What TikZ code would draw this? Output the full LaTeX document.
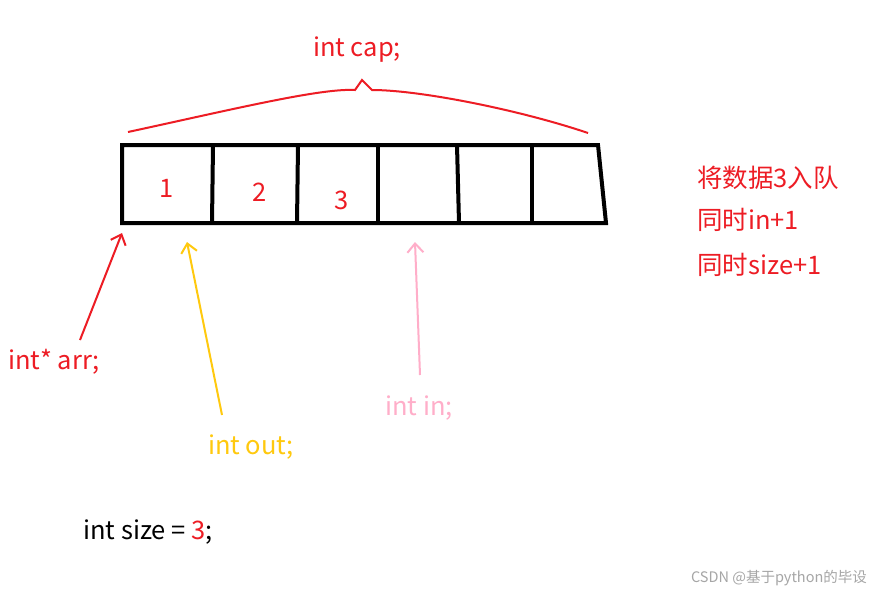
\documentclass[tikz,border=0pt]{standalone}
\usepackage{fontspec}
\setmainfont{Noto Sans CJK SC}
\usetikzlibrary{arrows.meta}
\definecolor{myred}{HTML}{ED1C24}
\definecolor{mygold}{HTML}{FFC90E}
\definecolor{mypink}{HTML}{FFAEC9}
\begin{document}
\begin{tikzpicture}[x=1pt,y=-1pt,
  lab/.style={font=\fontsize{25.5}{28}\selectfont,inner sep=0pt},
  cell/.style={line width=4pt,black},
  arr/.style={line width=2pt,-{Straight Barb[length=9pt,width=16pt]}}]
\useasboundingbox (0,0) rectangle (880,592);
\fill[white] (0,0) rectangle (880,592);
\draw[cell,line join=miter] (122,145) -- (598,145) -- (606,223) -- (122,223) -- cycle;
\foreach \a/\b in {213/212,298/297,378/378,457/459,532/532} \draw[cell] (\a,145) -- (\b,223);
\node[lab,text=myred] (c1) at (167,188) {1};
\node[lab,text=myred] (c2) at (260,192) {2};
\node[lab,text=myred] (c3) at (342,200) {3};
\coordinate (bl) at (128,132); \coordinate (bp) at (362,80); \coordinate (br) at (588,133);
\draw[myred,line width=2pt] (bl) .. controls (230,110) and (320,88) .. (355,90) -- (bp) -- (372,90) .. controls (420,90) and (520,110) .. (br);
\node[lab,text=myred] (cap) at (357,50) {int cap;};
\node[lab,text=myred] (arrl) at (54,362) {int* arr;};
\node[lab,text=mygold] (outl) at (251,447) {int out;};
\node[lab,text=mypink] (inl) at (419,408) {int in;};
\coordinate (ta) at (122,233); \coordinate (to) at (187,242); \coordinate (ti) at (415,242);
\draw[arr,myred] (80,340) -- (ta);
\draw[arr,mygold] (222,415) -- (to);
\draw[arr,mypink] (420,375) -- (ti);
\node[lab,text=myred,anchor=west] (r1) at (697,178) {将数据3入队};
\node[lab,text=myred,anchor=west] (r2) at (697,220) {同时in+1};
\node[lab,text=myred,anchor=west] (r3) at (697,265) {同时size+1};
\node[lab,anchor=west] (sz) at (83,532) {int size = \textcolor{myred}{3};};
\node[font=\fontsize{14.5}{16}\selectfont,text=gray!70,inner sep=0pt] (wm) at (779,578) {CSDN @基于python的毕设};
\end{tikzpicture}
\end{document}
